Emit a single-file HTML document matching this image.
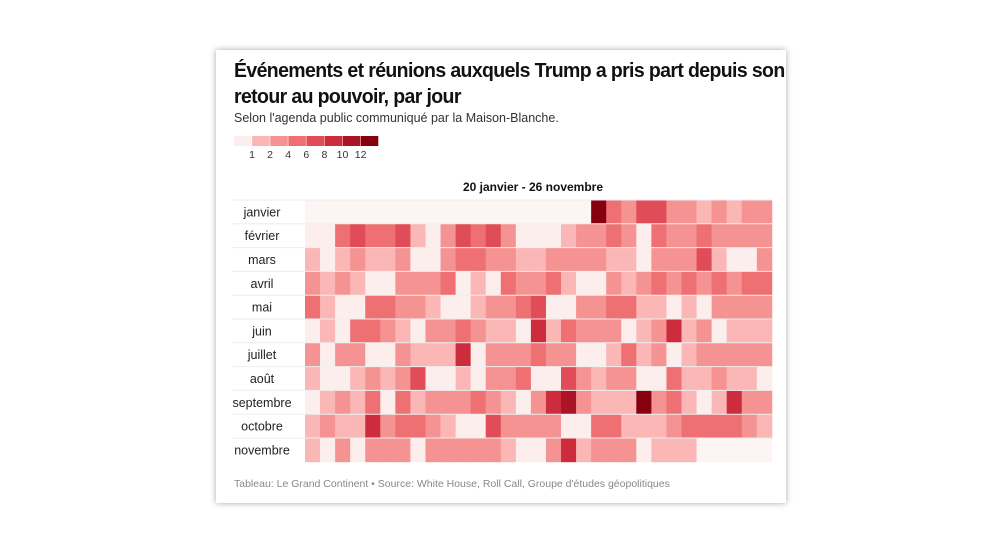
<!DOCTYPE html>
<html><head><meta charset="utf-8">
<style>
html,body{margin:0;padding:0;background:#fff;width:1000px;height:557px;overflow:hidden;font-family:"Liberation Sans",sans-serif;}
#card{position:absolute;left:216px;top:50px;width:570px;height:453px;background:#fff;box-shadow:0 0 6px rgba(0,0,0,0.35);}
#title{position:absolute;left:18px;top:8px;white-space:nowrap;font-size:20.5px;font-weight:bold;line-height:26px;color:#111;letter-spacing:-0.65px;transform:scaleX(0.95);transform-origin:0 0;}
#sub{position:absolute;left:18px;top:61px;font-size:12.5px;color:#333;}
#foot{position:absolute;left:18px;top:428px;font-size:10.5px;color:#888;}
svg{position:absolute;left:0;top:0;}
</style></head><body>
<div id="card">
<div id="title">Événements et réunions auxquels Trump a pris part depuis son<br>retour au pouvoir, par jour</div>
<div id="sub">Selon l'agenda public communiqué par la Maison-Blanche.</div>
<div id="foot">Tableau: Le Grand Continent • Source: White House, Roll Call, Groupe d'études géopolitiques</div>
</div>
<svg id="chart" width="1000" height="557"></svg>
<script>
const months = ["janvier","février","mars","avril","mai","juin","juillet","août","septembre","octobre","novembre"];
const legendLabels = ["1","2","4","6","8","10","12"];
const legendColors = ["#fdeeee","#fbb6b6","#f59393","#ee7073","#e04c57","#cc2c3b","#aa1424","#870010"];
const binEdges = [1,2,4,6,8,10,12];
const janvier  = [0,0,0,0,0,0,0,0,0,0,0,0,0,0,0,0,0,0,0,13,5,3,7,7,3,3,2,3,2,3,3];
const fevrier  = [1,1,5,7,5,5,7,2,1,3,7,5,7,3,1,1,1,2,3,3,5,3,1,5,3,3,5,3,3,3,3];
const mars     = [2,1,2,3,2,2,3,1,1,3,5,5,3,3,2,2,3,3,3,3,2,2,1,3,3,3,7,2,1,1,3];
const avril    = [3,2,3,2,1,1,3,3,3,5,1,2,1,5,3,3,5,2,1,1,3,2,3,5,3,5,3,5,3,5,5];
const mai      = [5,2,1,1,5,5,3,3,2,1,1,2,3,3,5,7,1,1,3,3,5,5,2,2,1,2,1,3,3,3,3];
const juin     = [1,2,1,5,5,3,2,1,3,3,5,3,2,2,1,9,2,5,3,3,3,1,2,3,9,2,3,1,2,2,2];
const juillet  = [3,1,3,3,1,1,3,2,2,2,9,1,3,3,3,5,3,3,1,1,2,5,2,3,1,2,3,3,3,3,3];
const aout     = [2,1,1,2,3,2,3,7,1,1,2,1,3,3,5,1,1,7,3,2,3,3,1,1,5,2,2,3,2,2,1];
const septembre= [1,2,3,2,5,1,5,2,3,3,3,5,3,2,1,3,9,11,3,2,2,2,13,3,5,2,1,2,9,3,3];
const octobre  = [2,3,2,2,9,3,5,5,3,2,1,1,7,3,3,3,3,1,1,5,5,2,2,2,3,5,5,5,5,3,2];
const novembre = [2,1,3,1,3,3,3,1,3,3,3,3,3,2,1,1,3,9,2,3,3,3,1,2,2,2,0,0,0,0,0];
const values = [janvier,fevrier,mars,avril,mai,juin,juillet,aout,septembre,octobre,novembre];

const NS="http://www.w3.org/2000/svg";
const svg=document.getElementById('chart');
const X0=305, CW=15.06, Y0=200, RH=23.8;
const xPos=d=>X0+d*CW;
const yPos=m=>Y0+m*RH;
function color(v){if(v<=0)return "#fdf4f4";for(let i=0;i<binEdges.length;i++){if(v<=binEdges[i])return legendColors[i];}return legendColors[7];}
function mk(tag,attrs){const e=document.createElementNS(NS,tag);for(const k in attrs)e.setAttribute(k,attrs[k]);svg.appendChild(e);return e;}

for(let i=0;i<8;i++){
  const r=mk('rect',{x:234+i*18.1,y:136,width:17.6,height:10,fill:legendColors[i]});
  
  
}
legendLabels.forEach((t,i)=>{
  const e=mk('text',{x:252+i*18.1,y:158,'font-size':10.5,'text-anchor':'middle',fill:'#333','font-family':'Liberation Sans'});
  e.textContent=t;
  
  
});
const hd=mk('text',{x:533,y:191,'font-size':12,'font-weight':'bold','text-anchor':'middle',fill:'#111','font-family':'Liberation Sans'});
hd.textContent="20 janvier - 26 novembre";



values.forEach((row,m)=>{
  row.forEach((v,d)=>{
    const r=mk('rect',{x:xPos(d),y:yPos(m),width:CW+0.4,height:RH+0.4,fill:color(v)});
    
    
  });
  const l=mk('line',{x1:232,x2:772,y1:yPos(m),y2:yPos(m),stroke:'#eee','stroke-width':1});
  
  
  const t=mk('text',{x:262,y:yPos(m)+RH/2+4.5,'font-size':12.5,'text-anchor':'middle',fill:'#222','font-family':'Liberation Sans'});
  t.textContent=months[m];
  
  
});
</script>
</body></html>
